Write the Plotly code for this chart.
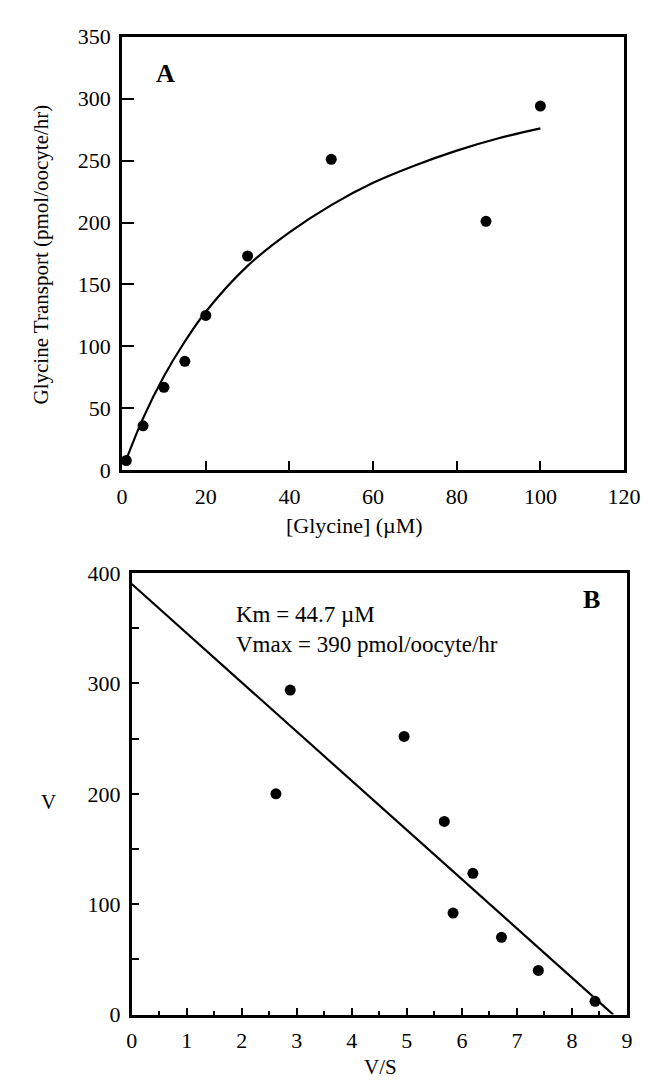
import plotly.graph_objects as go

W, H = 662, 1088

# Panel A data: glycine concentration (uM) vs transport (pmol/oocyte/hr)
glycine_uM = [1, 5, 10, 15, 20, 30, 50, 87, 100]
transport = [8, 36, 67, 88, 125, 173, 251, 201, 294]

# Fitted curve
curve_x = [0.8, 5, 10, 15, 20, 30, 40, 50, 60, 70, 80, 90, 100]
curve_y = [7, 42, 76, 104, 128, 165, 192, 214, 232, 246, 258, 268, 276]

# Panel B data (Eadie-Hofstee): V/S vs V
vs_ratio = [8.42, 7.39, 6.72, 5.84, 6.20, 5.68, 4.95, 2.62, 2.88]
v_vals = [12, 40, 70, 92, 128, 175, 252, 200, 294]

# Regression line endpoints
line_x = [0, 8.75]
line_y = [390, 0]

x_ticks_A = [0, 20, 40, 60, 80, 100, 120]
y_ticks_A = [0, 50, 100, 150, 200, 250, 300, 350]
x_ticks_B = [0, 1, 2, 3, 4, 5, 6, 7, 8, 9]
y_ticks_B = [0, 100, 200, 300, 400]

FONT = "Liberation Serif"

fig = go.Figure()

fig.add_trace(go.Scatter(x=curve_x, y=curve_y, mode="lines", line=dict(color="black", width=2.2, shape="spline"),
                         xaxis="x", yaxis="y", showlegend=False, hoverinfo="skip"))
fig.add_trace(go.Scatter(x=glycine_uM, y=transport, mode="markers", marker=dict(color="black", size=11),
                         xaxis="x", yaxis="y", showlegend=False, cliponaxis=False))

fig.add_trace(go.Scatter(x=line_x, y=line_y, mode="lines", line=dict(color="black", width=2.2),
                         xaxis="x2", yaxis="y2", showlegend=False, hoverinfo="skip"))
fig.add_trace(go.Scatter(x=vs_ratio, y=v_vals, mode="markers", marker=dict(color="black", size=11),
                         xaxis="x2", yaxis="y2", showlegend=False, cliponaxis=False))

axis_common = dict(showline=True, mirror=True, linecolor="black", linewidth=2.8, showgrid=False,
                   zeroline=False, tickcolor="black", tickwidth=2, ticklabelstandoff=4,
                   tickfont=dict(family=FONT, size=22, color="black"))

fig.update_layout(
    width=W, height=H,
    margin=dict(l=0, r=0, t=0, b=0),
    paper_bgcolor="white", plot_bgcolor="white",
    xaxis=dict(domain=[112 / W, 632 / W], anchor="y", range=[0, 120], tickvals=x_ticks_A,
               ticks="inside", ticklen=10, **axis_common),
    yaxis=dict(domain=[1 - 461 / H, 1 - 17 / H], anchor="x", range=[0, 350], tickvals=y_ticks_A,
               ticks="inside", ticklen=12, **axis_common),
    xaxis2=dict(domain=[122 / W, 635 / W], anchor="y2", range=[0, 9], tickvals=x_ticks_B,
                ticks="inside", ticklen=7,
                minor=dict(dtick=0.5, ticks="inside", ticklen=4, tickwidth=2, tickcolor="black"),
                **axis_common),
    yaxis2=dict(domain=[1 - 1018 / H, 1 - 566 / H], anchor="x2", range=[0, 400], tickvals=y_ticks_B,
                ticks="inside", ticklen=7,
                minor=dict(dtick=50, ticks="inside", ticklen=7, tickwidth=2, tickcolor="black"),
                **axis_common),
)

ann_font = dict(family=FONT, size=21, color="black")
annotations = [
    dict(text="<b>A</b>", x=157 / W, y=1 - 55 / H, font=dict(family=FONT, size=26, color="black")),
    dict(text="<b>B</b>", x=598 / W, y=1 - 593 / H, font=dict(family=FONT, size=26, color="black")),
    dict(text="Km = 44.7 µM<br>Vmax = 390 pmol/oocyte/hr", x=228 / W, y=1 - 624 / H, xanchor="left",
         align="left", font=dict(family=FONT, size=23, color="black")),
    dict(text="Glycine Transport (pmol/oocyte/hr)", x=28 / W, y=1 - 240 / H, textangle=-90, font=ann_font),
    dict(text="[Glycine] (µM)", x=353 / W, y=1 - 517 / H, font=dict(family=FONT, size=22, color="black")),
    dict(text="V", x=36 / W, y=1 - 800 / H, font=ann_font),
    dict(text="V/S", x=380 / W, y=1 - 1072 / H, font=ann_font),
]
for a in annotations:
    a.update(xref="paper", yref="paper", showarrow=False)
    a.setdefault("xanchor", "center")
    a.setdefault("yanchor", "middle")
fig.update_layout(annotations=annotations)

fig.write_html("out.html")
